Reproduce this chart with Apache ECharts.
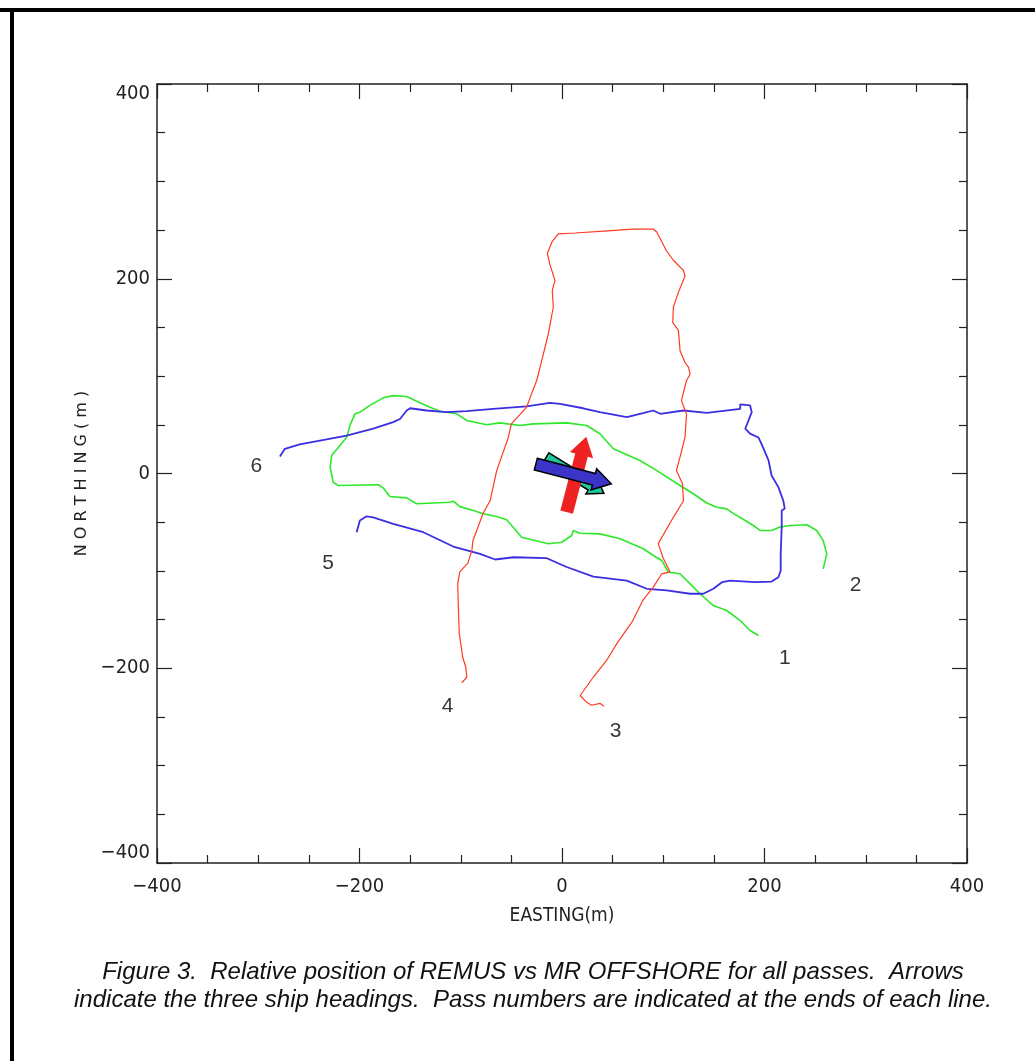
<!DOCTYPE html>
<html>
	<head>
		<meta charset="utf-8">
		<title>REMUS vs MR OFFSHORE</title>
		<script src="https://cdn.jsdelivr.net/npm/echarts@6/dist/echarts.min.js"></script>
		<style>
			html, body { margin: 0; padding: 0; background: #fff; }
		</style>
	</head>

	<body>
		<div id="main" style="width: 1035px; height: 1061px;"></div>
		<script type="text/javascript">
			// tracks in metres, [easting, northing]
			var redTrack = [
				[-99, -215], [-94, -209], [-95, -199], [-98, -189], [-101.5, -164], [-102.5, -133], [-103, -113],
				[-101, -101], [-93, -92], [-89, -79], [-88, -69], [-78, -41], [-71, -28], [-64.5, 3],
				[-53, 37], [-50, 51], [-35, 68], [-30, 82], [-25, 95.5], [-20, 116], [-13.5, 143.5],
				[-8.6, 171], [-9.6, 188], [-7, 198], [-12, 215], [-14.5, 226], [-10, 237.5], [-3.7, 246],
				[13, 247], [41, 249], [70, 251], [90, 251], [93.6, 248], [103, 229], [110, 219],
				[120, 208.5], [121.5, 203], [115, 186], [110, 171], [109.4, 155], [115, 147], [116.6, 126],
				[121.5, 114], [125, 109], [126.5, 102], [123, 95.5], [118, 75], [123, 61], [121.5, 37],
				[116.6, 17], [113, 3], [119, -10.6], [120, -28], [110, -45], [95, -72], [100, -87],
				[106.7, -101], [98.5, -103], [90, -117], [80, -130], [70, -151], [54, -175], [44, -192],
				[31, -209], [18, -228], [24.4, -235], [29.3, -238], [37.5, -236], [41.5, -239]
			];
			var blueTrack = [
				[-278.6, 17.5], [-273.7, 25.4], [-259, 30], [-232.5, 35], [-212.7, 39], [-186.5, 46], [-166.7, 52.7],
				[-160, 56], [-153.4, 64.7], [-150, 67], [-133.7, 64.7], [-114, 63], [-94, 64], [-68, 66.4],
				[-35, 69], [-12, 72.6], [-2, 71.6], [21, 67], [37.5, 63], [64, 58], [80, 62],
				[90, 64.7], [97, 61.3], [120, 64.7], [143, 62.3], [176, 66.4], [176, 71], [185.7, 70],
				[187.4, 63], [181, 46], [185.7, 41], [194, 37], [197, 30.5], [204, 13.4], [207, -2],
				[213.7, -14], [218.6, -28], [220, -36], [217, -38], [217, -55], [216, -82.5], [216, -99.6],
				[213.7, -106.5], [207, -111], [190.7, -111.6], [166, -110], [158, -111.6], [149.5, -118.4], [139.6, -123.5],
				[126.5, -123.5], [103.4, -120], [83.7, -118.4], [64, -110], [31, -106], [4.6, -96], [-15, -87],
				[-48, -86], [-66, -88.3], [-81, -82.5], [-107.4, -75], [-137, -60.3], [-166.7, -51.7], [-186.5, -45],
				[-193, -44], [-199.6, -48.3], [-202.8, -60.3]
			];
			var greenTrack = [
				[258, -98], [261.5, -82.5], [258, -69], [251.6, -58.5], [241.8, -52.7], [225.3, -53.4], [215.4, -55],
				[207, -58.5], [195.6, -58.5], [189, -53.4], [181, -48.3], [169, -41], [162.7, -36.3], [152.8, -34.6],
				[143, -30.3], [129.7, -20.8], [116.6, -12.3], [93.6, 3], [77, 13.4], [50.7, 25.4], [37.5, 40.8],
				[24.4, 49.3], [4.6, 52], [-28.4, 51], [-41.5, 49.3], [-61.3, 52], [-74.4, 50], [-94, 54.4],
				[-104, 61.3], [-120.5, 64], [-130.4, 68], [-143.6, 74.3], [-153.4, 79], [-166.7, 80], [-176.6, 77.7],
				[-189.7, 70], [-199.6, 63], [-204.5, 61.3], [-208.8, 51], [-212.7, 37.3], [-219.3, 28.8], [-227.5, 18.5],
				[-229, 6.5], [-226, -9], [-221, -12.3], [-181.5, -11.6], [-176.6, -14.7], [-170, -23.6], [-153.4, -25],
				[-143.6, -31], [-110.7, -29.5], [-107.4, -28.4], [-100.8, -34], [-87.6, -38], [-77.8, -41.4], [-64.5, -44.2],
				[-54.6, -47.6], [-39.8, -65.4], [-13.5, -72.2], [-0.3, -70.6], [9.6, -63.7], [11.2, -58.5], [17.8, -61.3],
				[37.5, -62], [57.3, -67], [80.3, -77.3], [90.2, -84.2], [98.5, -89.3], [105, -101.4], [116.6, -103],
				[126.5, -113.3], [136.3, -123.5], [149.5, -135.6], [162.7, -140.7], [176, -151], [185.7, -161.2], [194, -166.4]
			];

			// pass numbers at the line ends
			var passNames = ['1', '2', '3', '4', '5', '6'];
			var passX = [220, 290, 53, -113, -231, -302];
			var passY = [-190, -115, -265, -239, -92, 7];

			// ship headings (deg from north) drawn at the middle
			var headingNames = ['teal', 'red', 'blue'];
			var headingDeg = [121.7, 14.6, 104.6];
			var headingX = [12.8, 14.3, 11.4];
			var headingY = [-2, -1, -0.5];

			var ticks = [-400, -200, 0, 200, 400];

			var narrow = '"Liberation Sans Narrow", "DejaVu Sans Condensed", "DejaVu Sans", sans-serif';
			var arrowStyle = {
				teal: { fill: '#1fc79c', stroke: '#000', lineWidth: 1.5, len: 68, w: 11, hw: 20, hl: 15 },
				red: { fill: '#ee2222', stroke: null, lineWidth: 0, len: 78, w: 13, hw: 24, hl: 19 },
				blue: { fill: '#3a34c8', stroke: '#000', lineWidth: 1.5, len: 78, w: 12, hw: 22, hl: 18 }
			};

			function minusFmt(v) {
				return String(v).replace('-', '\u2212');
			}

			var myChart = echarts.init(document.getElementById('main'));

			var axisCommon = {
				type: 'value',
				min: ticks[0],
				max: ticks[ticks.length - 1],
				interval: 200,
				splitLine: { show: false },
				axisLine: { show: true, onZero: false, lineStyle: { color: '#222', width: 1.5 } },
				axisTick: { show: true, inside: true, length: 15, lineStyle: { color: '#222', width: 1.2 } },
				minorTick: { show: true, splitNumber: 4, length: 8, lineStyle: { color: '#222', width: 1.2 } },
				minorSplitLine: { show: false }
			};

			var option = {
				animation: false,
				backgroundColor: '#fff',
				grid: { left: 157, top: 84, width: 810, height: 779 },
				xAxis: [
					Object.assign({}, axisCommon, {
						position: 'bottom',
						name: 'EASTING(m)',
						nameLocation: 'middle',
						nameGap: 44,
						nameTextStyle: { fontFamily: narrow, fontSize: 19, color: '#222' },
						axisLabel: { formatter: minusFmt, margin: 14, fontFamily: narrow, fontSize: 20, color: '#222' }
					}),
					Object.assign({}, axisCommon, {
						position: 'top',
						axisLabel: { show: false }
					})
				],
				yAxis: [
					Object.assign({}, axisCommon, {
						position: 'left',
						name: 'N O R T H I N G ( m )',
						nameLocation: 'middle',
						nameGap: 62,
						nameTextStyle: { fontFamily: '"DejaVu Sans", sans-serif', fontSize: 16, color: '#222' },
						axisLabel: {
							formatter: minusFmt, margin: 7, fontFamily: narrow, fontSize: 20, color: '#222',
							verticalAlignMinLabel: 'bottom', verticalAlignMaxLabel: 'top'
						}
					}),
					Object.assign({}, axisCommon, {
						position: 'right',
						axisLabel: { show: false }
					})
				],
				graphic: [
					{ type: 'rect', shape: { x: 0, y: 8, width: 1035, height: 4 }, style: { fill: '#000' } },
					{ type: 'rect', shape: { x: 10, y: 8, width: 4, height: 1053 }, style: { fill: '#000' } },
					{
						type: 'text', x: 533, y: 958,
						style: {
							text: 'Figure 3.  Relative position of REMUS vs MR OFFSHORE for all passes.  Arrows\nindicate the three ship headings.  Pass numbers are indicated at the ends of each line.',
							align: 'center', verticalAlign: 'top',
							fontFamily: '"Liberation Sans", Arial, sans-serif', fontStyle: 'italic',
							fontSize: 24, lineHeight: 28, fill: '#111'
						}
					}
				],
				series: [
					{
						name: 'green', type: 'line', data: greenTrack, symbol: 'none',
						lineStyle: { color: '#2ee82a', width: 1.6 }
					},
					{
						name: 'blue', type: 'line', data: blueTrack, symbol: 'none',
						lineStyle: { color: '#3a2ee0', width: 1.8 }
					},
					{
						name: 'red', type: 'line', data: redTrack, symbol: 'none',
						lineStyle: { color: '#ff3a22', width: 1.2 }
					},
					{
						name: 'headings', type: 'custom',
						data: headingNames.map(function (n, i) { return [headingX[i], headingY[i], headingDeg[i]]; }),
						renderItem: function (params, api) {
							var c = api.coord([api.value(0), api.value(1)]);
							var th = api.value(2) * Math.PI / 180;
							var st = arrowStyle[headingNames[params.dataIndex]];
							var d = [Math.sin(th), -Math.cos(th)];
							var p = [Math.cos(th), Math.sin(th)];
							var h = st.len / 2;
							var local = [
								[-h, -st.w / 2], [h - st.hl, -st.w / 2], [h - st.hl, -st.hw / 2], [h, 0],
								[h - st.hl, st.hw / 2], [h - st.hl, st.w / 2], [-h, st.w / 2]
							];
							var pts = local.map(function (q) {
								return [c[0] + d[0] * q[0] + p[0] * q[1], c[1] + d[1] * q[0] + p[1] * q[1]];
							});
							return {
								type: 'polygon',
								shape: { points: pts },
								style: { fill: st.fill, stroke: st.stroke, lineWidth: st.lineWidth }
							};
						},
						z: 5
					},
					{
						name: 'passes', type: 'scatter', symbolSize: 1,
						itemStyle: { color: 'rgba(0,0,0,0)' },
						data: passNames.map(function (n, i) { return { name: n, value: [passX[i], passY[i]] }; }),
						label: {
							show: true, position: 'inside', formatter: '{b}',
							fontFamily: '"Liberation Sans", Arial, sans-serif', fontSize: 21, color: '#000'
						}
					}
				]
			};
			myChart.setOption(option);
		</script>
	</body>
</html>
